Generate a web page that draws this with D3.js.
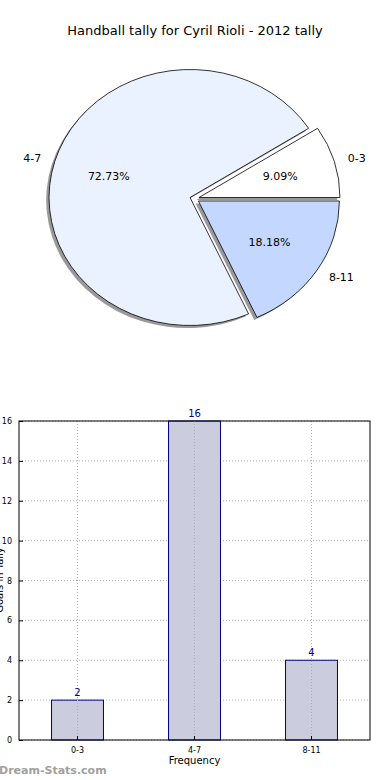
<!DOCTYPE html>
<html>
<head>
<script src="https://cdn.jsdelivr.net/npm/d3@7"></script>
<style>
  body { margin: 0; background: #fff; }
  text { font-family: "DejaVu Sans", sans-serif; }
</style>
</head>
<body>
<svg width="390" height="780"></svg>
<script>
// data
var categories = ["0-3", "4-7", "8-11"];
var tally = [2, 16, 4];
var sliceColors = ["#ffffff", "#ebf2ff", "#c4d8ff"];
var yTicks = [0, 2, 4, 6, 8, 10, 12, 14, 16];

var svg = d3.select("svg");

svg.append("text")
  .attr("x", 195).attr("y", 35)
  .attr("text-anchor", "middle")
  .attr("font-size", 13)
  .text("Handball tally for Cyril Rioli - 2012 tally");

// ---- pie (matplotlib style: start east, counter-clockwise, elliptical) ----
var cx = 194.5, cy = 198.7, rx = 141, ry = 128, explode = 0.033;
var total = d3.sum(tally);

var pie = d3.pie().sort(null)
  .startAngle(Math.PI / 2)
  .endAngle(Math.PI / 2 - 2 * Math.PI);
var arcs = pie(tally);
var arc = d3.arc().innerRadius(0).outerRadius(rx);

function offset(d, f) {
  var a = (d.startAngle + d.endAngle) / 2;
  return [Math.sin(a) * f * rx, -Math.cos(a) * f * ry];
}

var pieG = svg.append("g");

// shadows
pieG.selectAll("path.shadow")
  .data(arcs)
  .enter().append("path")
  .attr("class", "shadow")
  .attr("transform", function(d) {
    var o = offset(d, explode);
    return "translate(" + (cx + o[0] - 2.8) + "," + (cy + o[1] + 2.6) + ") scale(1," + (ry / rx) + ")";
  })
  .attr("d", arc)
  .attr("fill", "#808080")
  .attr("opacity", 0.8);

pieG.selectAll("path.wedge")
  .data(arcs)
  .enter().append("path")
  .attr("class", "wedge")
  .attr("transform", function(d) {
    var o = offset(d, explode);
    return "translate(" + (cx + o[0]) + "," + (cy + o[1]) + ") scale(1," + (ry / rx) + ")";
  })
  .attr("d", arc)
  .attr("fill", function(d, i) { return sliceColors[i]; })
  .attr("stroke", "#000")
  .attr("stroke-width", 0.8)
  .attr("vector-effect", "non-scaling-stroke");

// labels
pieG.selectAll("text.lab")
  .data(arcs)
  .enter().append("text")
  .attr("class", "lab")
  .attr("font-size", 11)
  .attr("dy", "0.35em")
  .attr("x", function(d) { return cx + offset(d, explode)[0] + offset(d, 1.1)[0]; })
  .attr("y", function(d) { return cy + offset(d, explode)[1] + offset(d, 1.1)[1]; })
  .attr("text-anchor", function(d) {
    return offset(d, 1)[0] < 0 ? "end" : "start";
  })
  .text(function(d, i) { return categories[i]; });

pieG.selectAll("text.pct")
  .data(arcs)
  .enter().append("text")
  .attr("class", "pct")
  .attr("font-size", 11)
  .attr("dy", "0.35em")
  .attr("text-anchor", "middle")
  .attr("x", function(d) { return cx + offset(d, explode)[0] + offset(d, 0.6)[0]; })
  .attr("y", function(d) { return cy + offset(d, explode)[1] + offset(d, 0.6)[1]; })
  .text(function(d) { return (d.value / total * 100).toFixed(2) + "%"; });

// ---- bar chart ----
var plotLeft = 19, plotRight = 370, plotTop = 421, plotBottom = 740;

var x = d3.scaleBand().domain(categories).range([plotLeft, plotRight])
  .paddingInner(0.556).paddingOuter(0.278);
var y = d3.scaleLinear().domain([0, 16]).range([plotBottom, plotTop]);

var barG = svg.append("g");

// grid
barG.selectAll("line.hgrid")
  .data(yTicks)
  .enter().append("line")
  .attr("x1", plotLeft).attr("x2", plotRight)
  .attr("y1", function(d) { return y(d); })
  .attr("y2", function(d) { return y(d); })
  .attr("stroke", "#b0b0b0").attr("stroke-width", 1)
  .attr("stroke-dasharray", "1,2");

barG.selectAll("rect.bar")
  .data(tally)
  .enter().append("rect")
  .attr("class", "bar")
  .attr("x", function(d, i) { return x(categories[i]); })
  .attr("y", function(d) { return y(d); })
  .attr("width", x.bandwidth())
  .attr("height", function(d) { return plotBottom - y(d); })
  .attr("fill", "#ccccdf")
  .attr("stroke", "#000080")
  .attr("stroke-width", 1);

barG.selectAll("line.vgrid")
  .data(categories)
  .enter().append("line")
  .attr("x1", function(d) { return x(d) + x.bandwidth() / 2; })
  .attr("x2", function(d) { return x(d) + x.bandwidth() / 2; })
  .attr("y1", plotTop).attr("y2", plotBottom)
  .attr("stroke", "#b0b0b0").attr("stroke-width", 1)
  .attr("stroke-dasharray", "1,2");

barG.selectAll("text.val")
  .data(tally)
  .enter().append("text")
  .attr("class", "val")
  .attr("font-size", 10)
  .attr("fill", "#000080")
  .attr("text-anchor", "middle")
  .attr("x", function(d, i) { return x(categories[i]) + x.bandwidth() / 2; })
  .attr("y", function(d) { return y(d) - 4; })
  .text(function(d) { return d; });

// axes
var yAxis = d3.axisLeft(y).tickValues(yTicks).tickSize(-4).tickPadding(7);
var gy = barG.append("g").attr("transform", "translate(" + plotLeft + ",0)").call(yAxis);
gy.select(".domain").remove();
gy.selectAll("text").attr("font-size", 8).attr("font-family", "DejaVu Sans Condensed, DejaVu Sans, sans-serif");

var xAxis = d3.axisBottom(x).tickSize(-4).tickPadding(7);
var gx = barG.append("g").attr("transform", "translate(0," + plotBottom + ")").call(xAxis);
gx.select(".domain").remove();
gx.selectAll("text").attr("font-size", 8).attr("font-family", "DejaVu Sans Condensed, DejaVu Sans, sans-serif");

barG.append("rect")
  .attr("x", plotLeft).attr("y", plotTop)
  .attr("width", plotRight - plotLeft).attr("height", plotBottom - plotTop)
  .attr("fill", "none").attr("stroke", "#000").attr("stroke-width", 1);

svg.append("text")
  .attr("x", (plotLeft + plotRight) / 2).attr("y", 764)
  .attr("text-anchor", "middle")
  .attr("font-size", 10)
  .text("Frequency");

svg.append("text")
  .attr("transform", "translate(2.5,580) rotate(-90)")
  .attr("text-anchor", "middle")
  .attr("font-size", 10)
  .text("Goals in Tally");

svg.append("text")
  .attr("x", -1).attr("y", 774)
  .attr("font-size", 11)
  .attr("font-weight", "bold")
  .attr("fill", "#a0a0a0")
  .text("Dream-Stats.com");
</script>
</body>
</html>
